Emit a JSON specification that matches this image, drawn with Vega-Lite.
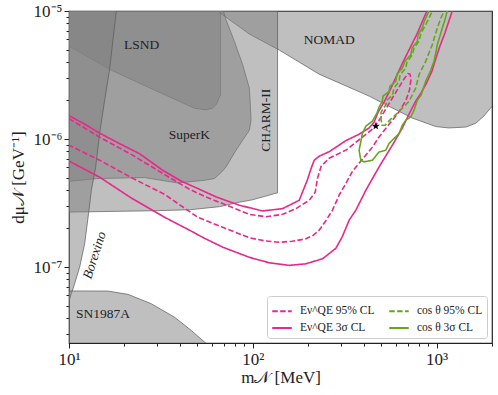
{
  "$schema": "https://vega.github.io/schema/vega-lite/v6.json",
  "width": 423,
  "height": 332,
  "autosize": {"type": "none"},
  "padding": {"left": 69, "top": 11, "right": 6, "bottom": 52},
  "background": "white",
  "config": {
    "view": {"stroke": "#222222", "strokeWidth": 1.2},
    "font": "Liberation Serif",
    "axis": {"labelFont": "Liberation Serif", "titleFont": "Liberation Serif", "labelFontSize": 17, "titleFontSize": 17, "titleFontWeight": "normal", "labelColor": "#222222", "titleColor": "#222222", "tickColor": "#222222", "domain": false, "grid": false, "labelOverlap": false, "labelFlush": false}
  },
  "datasets": {
    "regions": [
      {"region": "NOMAD", "i": 1, "m": 58.05, "d": 1.114e-5},
      {"region": "NOMAD", "i": 2, "m": 64.16, "d": 1e-5},
      {"region": "NOMAD", "i": 3, "m": 95.72, "d": 6.61e-6},
      {"region": "NOMAD", "i": 4, "m": 139.3, "d": 4.95e-6},
      {"region": "NOMAD", "i": 5, "m": 229.6, "d": 3.21e-6},
      {"region": "NOMAD", "i": 6, "m": 429.1, "d": 2.164e-6},
      {"region": "NOMAD", "i": 7, "m": 734.4, "d": 1.46e-6},
      {"region": "NOMAD", "i": 8, "m": 991.3, "d": 1.25e-6},
      {"region": "NOMAD", "i": 9, "m": 1166, "d": 1.22e-6},
      {"region": "NOMAD", "i": 10, "m": 1442, "d": 1.24e-6},
      {"region": "NOMAD", "i": 11, "m": 1635, "d": 1.33e-6},
      {"region": "NOMAD", "i": 12, "m": 1806, "d": 1.51e-6},
      {"region": "NOMAD", "i": 13, "m": 1979, "d": 1.77e-6},
      {"region": "NOMAD", "i": 14, "m": 2319, "d": 2.16e-6},
      {"region": "NOMAD", "i": 15, "m": 2500, "d": 2e-5},
      {"region": "NOMAD", "i": 16, "m": 58, "d": 2e-5},
      {"region": "LSND", "i": 1, "m": 8.9, "d": 5.87e-6},
      {"region": "LSND", "i": 2, "m": 16.63, "d": 3.5e-6},
      {"region": "LSND", "i": 3, "m": 27.43, "d": 2.51e-6},
      {"region": "LSND", "i": 4, "m": 48.13, "d": 1.74e-6},
      {"region": "LSND", "i": 5, "m": 55.71, "d": 1.69e-6},
      {"region": "LSND", "i": 6, "m": 60.28, "d": 1.74e-6},
      {"region": "LSND", "i": 7, "m": 63.38, "d": 1.87e-6},
      {"region": "LSND", "i": 8, "m": 66.61, "d": 2.2e-6},
      {"region": "LSND", "i": 9, "m": 66.61, "d": 2e-5},
      {"region": "LSND", "i": 10, "m": 8.9, "d": 2e-5},
      {"region": "SuperK", "i": 1, "m": 8.9, "d": 4.6e-7},
      {"region": "SuperK", "i": 2, "m": 14.37, "d": 4.91e-7},
      {"region": "SuperK", "i": 3, "m": 25.76, "d": 5.0e-7},
      {"region": "SuperK", "i": 4, "m": 33.07, "d": 4.71e-7},
      {"region": "SuperK", "i": 5, "m": 39.06, "d": 4.54e-7},
      {"region": "SuperK", "i": 6, "m": 54.55, "d": 4.76e-7},
      {"region": "SuperK", "i": 7, "m": 61.8, "d": 4.91e-7},
      {"region": "SuperK", "i": 8, "m": 67.45, "d": 5.5e-7},
      {"region": "SuperK", "i": 9, "m": 71.54, "d": 6.06e-7},
      {"region": "SuperK", "i": 10, "m": 81.04, "d": 8.18e-7},
      {"region": "SuperK", "i": 11, "m": 88.04, "d": 9.79e-7},
      {"region": "SuperK", "i": 12, "m": 95.72, "d": 1.17e-6},
      {"region": "SuperK", "i": 13, "m": 97.77, "d": 1.4e-6},
      {"region": "SuperK", "i": 14, "m": 96.92, "d": 1.84e-6},
      {"region": "SuperK", "i": 15, "m": 95.72, "d": 2.5e-6},
      {"region": "SuperK", "i": 16, "m": 88.04, "d": 3.8e-6},
      {"region": "SuperK", "i": 17, "m": 79.36, "d": 5.79e-6},
      {"region": "SuperK", "i": 18, "m": 71.54, "d": 8.5e-6},
      {"region": "SuperK", "i": 19, "m": 69.17, "d": 1e-5},
      {"region": "SuperK", "i": 20, "m": 68.0, "d": 2e-5},
      {"region": "SuperK", "i": 21, "m": 8.9, "d": 2e-5},
      {"region": "CHARM-II", "i": 1, "m": 8.9, "d": 2.68e-7},
      {"region": "CHARM-II", "i": 2, "m": 28.48, "d": 2.75e-7},
      {"region": "CHARM-II", "i": 3, "m": 45.22, "d": 2.8e-7},
      {"region": "CHARM-II", "i": 4, "m": 65.79, "d": 2.96e-7},
      {"region": "CHARM-II", "i": 5, "m": 84.48, "d": 3.21e-7},
      {"region": "CHARM-II", "i": 6, "m": 99.38, "d": 3.35e-7},
      {"region": "CHARM-II", "i": 7, "m": 136.3, "d": 3.8e-7},
      {"region": "CHARM-II", "i": 8, "m": 136.3, "d": 2e-5},
      {"region": "CHARM-II", "i": 9, "m": 8.9, "d": 2e-5},
      {"region": "Borexino", "i": 1, "m": 18.27, "d": 1.114e-5},
      {"region": "Borexino", "i": 2, "m": 18.08, "d": 1e-5},
      {"region": "Borexino", "i": 3, "m": 16.63, "d": 3.5e-6},
      {"region": "Borexino", "i": 4, "m": 15.63, "d": 2.01e-6},
      {"region": "Borexino", "i": 5, "m": 14.68, "d": 1.11e-6},
      {"region": "Borexino", "i": 6, "m": 13.96, "d": 6.02e-7},
      {"region": "Borexino", "i": 7, "m": 13.23, "d": 3.98e-7},
      {"region": "Borexino", "i": 8, "m": 12.84, "d": 2.78e-7},
      {"region": "Borexino", "i": 9, "m": 12.17, "d": 1.52e-7},
      {"region": "Borexino", "i": 10, "m": 11.43, "d": 1.0e-7},
      {"region": "Borexino", "i": 11, "m": 10.74, "d": 7.44e-8},
      {"region": "Borexino", "i": 12, "m": 10.09, "d": 5.66e-8},
      {"region": "Borexino", "i": 13, "m": 9.48, "d": 4.58e-8},
      {"region": "Borexino", "i": 14, "m": 8.9, "d": 4.58e-8},
      {"region": "Borexino", "i": 15, "m": 8.9, "d": 2e-5},
      {"region": "Borexino", "i": 16, "m": 18.27, "d": 2e-5},
      {"region": "SN1987A", "i": 1, "m": 8.9, "d": 6.51e-8},
      {"region": "SN1987A", "i": 2, "m": 16.28, "d": 6.49e-8},
      {"region": "SN1987A", "i": 3, "m": 20.91, "d": 6.12e-8},
      {"region": "SN1987A", "i": 4, "m": 28.01, "d": 5.17e-8},
      {"region": "SN1987A", "i": 5, "m": 37.48, "d": 4.06e-8},
      {"region": "SN1987A", "i": 6, "m": 46.2, "d": 3.2e-8},
      {"region": "SN1987A", "i": 7, "m": 55.71, "d": 2.53e-8},
      {"region": "SN1987A", "i": 8, "m": 61.8, "d": 2.15e-8},
      {"region": "SN1987A", "i": 9, "m": 8.9, "d": 2.15e-8}
    ],
    "contours": [
      {"series": "Eν^QE 3σ CL", "part": "a", "i": 1, "m": 10, "d": 1.522e-6},
      {"series": "Eν^QE 3σ CL", "part": "a", "i": 2, "m": 12.17, "d": 1.307e-6},
      {"series": "Eν^QE 3σ CL", "part": "a", "i": 3, "m": 14.68, "d": 1.111e-6},
      {"series": "Eν^QE 3σ CL", "part": "a", "i": 4, "m": 18.85, "d": 9.2e-7},
      {"series": "Eν^QE 3σ CL", "part": "a", "i": 5, "m": 24.2, "d": 7.68e-7},
      {"series": "Eν^QE 3σ CL", "part": "a", "i": 6, "m": 32.27, "d": 5.71e-7},
      {"series": "Eν^QE 3σ CL", "part": "a", "i": 7, "m": 41.43, "d": 4.64e-7},
      {"series": "Eν^QE 3σ CL", "part": "a", "i": 8, "m": 51.23, "d": 4.05e-7},
      {"series": "Eν^QE 3σ CL", "part": "a", "i": 9, "m": 63.12, "d": 3.53e-7},
      {"series": "Eν^QE 3σ CL", "part": "a", "i": 10, "m": 84.48, "d": 3.04e-7},
      {"series": "Eν^QE 3σ CL", "part": "a", "i": 11, "m": 113, "d": 2.74e-7},
      {"series": "Eν^QE 3σ CL", "part": "a", "i": 12, "m": 145.2, "d": 2.86e-7},
      {"series": "Eν^QE 3σ CL", "part": "a", "i": 13, "m": 178.8, "d": 3.32e-7},
      {"series": "Eν^QE 3σ CL", "part": "a", "i": 14, "m": 188, "d": 3.98e-7},
      {"series": "Eν^QE 3σ CL", "part": "a", "i": 15, "m": 197.7, "d": 4.76e-7},
      {"series": "Eν^QE 3σ CL", "part": "a", "i": 16, "m": 207.8, "d": 5.92e-7},
      {"series": "Eν^QE 3σ CL", "part": "a", "i": 17, "m": 215.8, "d": 6.83e-7},
      {"series": "Eν^QE 3σ CL", "part": "a", "i": 18, "m": 229.6, "d": 7.34e-7},
      {"series": "Eν^QE 3σ CL", "part": "a", "i": 19, "m": 260.2, "d": 7.96e-7},
      {"series": "Eν^QE 3σ CL", "part": "a", "i": 20, "m": 320.6, "d": 9.71e-7},
      {"series": "Eν^QE 3σ CL", "part": "a", "i": 21, "m": 378.6, "d": 1.091e-6},
      {"series": "Eν^QE 3σ CL", "part": "a", "i": 22, "m": 429.1, "d": 1.22e-6},
      {"series": "Eν^QE 3σ CL", "part": "a", "i": 23, "m": 456.7, "d": 1.354e-6},
      {"series": "Eν^QE 3σ CL", "part": "a", "i": 24, "m": 480.1, "d": 1.62e-6},
      {"series": "Eν^QE 3σ CL", "part": "a", "i": 25, "m": 517.4, "d": 1.942e-6},
      {"series": "Eν^QE 3σ CL", "part": "a", "i": 26, "m": 557.7, "d": 2.41e-6},
      {"series": "Eν^QE 3σ CL", "part": "a", "i": 27, "m": 601.3, "d": 3.047e-6},
      {"series": "Eν^QE 3σ CL", "part": "a", "i": 28, "m": 656.2, "d": 3.99e-6},
      {"series": "Eν^QE 3σ CL", "part": "a", "i": 29, "m": 716.1, "d": 5.14e-6},
      {"series": "Eν^QE 3σ CL", "part": "a", "i": 30, "m": 781.6, "d": 6.61e-6},
      {"series": "Eν^QE 3σ CL", "part": "a", "i": 31, "m": 842.7, "d": 8.5e-6},
      {"series": "Eν^QE 3σ CL", "part": "a", "i": 32, "m": 886, "d": 1e-5},
      {"series": "Eν^QE 3σ CL", "part": "a", "i": 33, "m": 908.1, "d": 1.114e-5},
      {"series": "Eν^QE 3σ CL", "part": "b", "i": 1, "m": 10, "d": 6.73e-7},
      {"series": "Eν^QE 3σ CL", "part": "b", "i": 2, "m": 14.68, "d": 5.03e-7},
      {"series": "Eν^QE 3σ CL", "part": "b", "i": 3, "m": 21.9, "d": 3.45e-7},
      {"series": "Eν^QE 3σ CL", "part": "b", "i": 4, "m": 33.07, "d": 2.45e-7},
      {"series": "Eν^QE 3σ CL", "part": "b", "i": 5, "m": 45.22, "d": 1.94e-7},
      {"series": "Eν^QE 3σ CL", "part": "b", "i": 6, "m": 54.55, "d": 1.677e-7},
      {"series": "Eν^QE 3σ CL", "part": "b", "i": 7, "m": 68.55, "d": 1.43e-7},
      {"series": "Eν^QE 3σ CL", "part": "b", "i": 8, "m": 95.72, "d": 1.191e-7},
      {"series": "Eν^QE 3σ CL", "part": "b", "i": 9, "m": 122.9, "d": 1.079e-7},
      {"series": "Eν^QE 3σ CL", "part": "b", "i": 10, "m": 157.8, "d": 1.03e-7},
      {"series": "Eν^QE 3σ CL", "part": "b", "i": 11, "m": 194.5, "d": 1.06e-7},
      {"series": "Eν^QE 3σ CL", "part": "b", "i": 12, "m": 239.3, "d": 1.16e-7},
      {"series": "Eν^QE 3σ CL", "part": "b", "i": 13, "m": 282.9, "d": 1.4e-7},
      {"series": "Eν^QE 3σ CL", "part": "b", "i": 14, "m": 307.3, "d": 1.738e-7},
      {"series": "Eν^QE 3σ CL", "part": "b", "i": 15, "m": 334.1, "d": 2.32e-7},
      {"series": "Eν^QE 3σ CL", "part": "b", "i": 16, "m": 363.3, "d": 2.78e-7},
      {"series": "Eν^QE 3σ CL", "part": "b", "i": 17, "m": 411.8, "d": 3.98e-7},
      {"series": "Eν^QE 3σ CL", "part": "b", "i": 18, "m": 486.2, "d": 6.06e-7},
      {"series": "Eν^QE 3σ CL", "part": "b", "i": 19, "m": 574.1, "d": 8.95e-7},
      {"series": "Eν^QE 3σ CL", "part": "b", "i": 20, "m": 650.6, "d": 1.22e-6},
      {"series": "Eν^QE 3σ CL", "part": "b", "i": 21, "m": 707.4, "d": 1.564e-6},
      {"series": "Eν^QE 3σ CL", "part": "b", "i": 22, "m": 769.1, "d": 1.977e-6},
      {"series": "Eν^QE 3σ CL", "part": "b", "i": 23, "m": 821.9, "d": 2.284e-6},
      {"series": "Eν^QE 3σ CL", "part": "b", "i": 24, "m": 875, "d": 2.685e-6},
      {"series": "Eν^QE 3σ CL", "part": "b", "i": 25, "m": 943, "d": 3.395e-6},
      {"series": "Eν^QE 3σ CL", "part": "b", "i": 26, "m": 991.3, "d": 4.29e-6},
      {"series": "Eν^QE 3σ CL", "part": "b", "i": 27, "m": 1042, "d": 5.32e-6},
      {"series": "Eν^QE 3σ CL", "part": "b", "i": 28, "m": 1109, "d": 6.73e-6},
      {"series": "Eν^QE 3σ CL", "part": "b", "i": 29, "m": 1166, "d": 8.35e-6},
      {"series": "Eν^QE 3σ CL", "part": "b", "i": 30, "m": 1215, "d": 1e-5},
      {"series": "Eν^QE 3σ CL", "part": "b", "i": 31, "m": 1241, "d": 1.114e-5},
      {"series": "Eν^QE 95% CL", "part": "c", "i": 1, "m": 10, "d": 1.443e-6},
      {"series": "Eν^QE 95% CL", "part": "c", "i": 2, "m": 14.68, "d": 1.034e-6},
      {"series": "Eν^QE 95% CL", "part": "c", "i": 3, "m": 22.17, "d": 7.48e-7},
      {"series": "Eν^QE 95% CL", "part": "c", "i": 4, "m": 33.5, "d": 5.22e-7},
      {"series": "Eν^QE 95% CL", "part": "c", "i": 5, "m": 45.22, "d": 4.05e-7},
      {"series": "Eν^QE 95% CL", "part": "c", "i": 6, "m": 54.55, "d": 3.57e-7},
      {"series": "Eν^QE 95% CL", "part": "c", "i": 7, "m": 68.55, "d": 3.13e-7},
      {"series": "Eν^QE 95% CL", "part": "c", "i": 8, "m": 95.72, "d": 2.58e-7},
      {"series": "Eν^QE 95% CL", "part": "c", "i": 9, "m": 118, "d": 2.47e-7},
      {"series": "Eν^QE 95% CL", "part": "c", "i": 10, "m": 145.2, "d": 2.58e-7},
      {"series": "Eν^QE 95% CL", "part": "c", "i": 11, "m": 171.6, "d": 2.86e-7},
      {"series": "Eν^QE 95% CL", "part": "c", "i": 12, "m": 202.6, "d": 3.32e-7},
      {"series": "Eν^QE 95% CL", "part": "c", "i": 13, "m": 218.4, "d": 3.84e-7},
      {"series": "Eν^QE 95% CL", "part": "c", "i": 14, "m": 224.8, "d": 4.94e-7},
      {"series": "Eν^QE 95% CL", "part": "c", "i": 15, "m": 235.4, "d": 6.13e-7},
      {"series": "Eν^QE 95% CL", "part": "c", "i": 16, "m": 260.2, "d": 7.08e-7},
      {"series": "Eν^QE 95% CL", "part": "c", "i": 17, "m": 320.6, "d": 8.18e-7},
      {"series": "Eν^QE 95% CL", "part": "c", "i": 18, "m": 394.6, "d": 1.034e-6},
      {"series": "Eν^QE 95% CL", "part": "c", "i": 19, "m": 447.2, "d": 1.194e-6},
      {"series": "Eν^QE 95% CL", "part": "c", "i": 20, "m": 486.2, "d": 1.4e-6},
      {"series": "Eν^QE 95% CL", "part": "c", "i": 21, "m": 528.6, "d": 1.712e-6},
      {"series": "Eν^QE 95% CL", "part": "c", "i": 22, "m": 574.1, "d": 2.09e-6},
      {"series": "Eν^QE 95% CL", "part": "c", "i": 23, "m": 624.3, "d": 2.544e-6},
      {"series": "Eν^QE 95% CL", "part": "c", "i": 24, "m": 664.6, "d": 2.94e-6},
      {"series": "Eν^QE 95% CL", "part": "c", "i": 25, "m": 698.6, "d": 3.244e-6},
      {"series": "Eν^QE 95% CL", "part": "c", "i": 26, "m": 716.1, "d": 3.21e-6},
      {"series": "Eν^QE 95% CL", "part": "c", "i": 27, "m": 725.3, "d": 2.94e-6},
      {"series": "Eν^QE 95% CL", "part": "c", "i": 28, "m": 711.7, "d": 2.41e-6},
      {"series": "Eν^QE 95% CL", "part": "c", "i": 29, "m": 681.3, "d": 2.01e-6},
      {"series": "Eν^QE 95% CL", "part": "c", "i": 30, "m": 624.3, "d": 1.631e-6},
      {"series": "Eν^QE 95% CL", "part": "c", "i": 31, "m": 574.1, "d": 1.4e-6},
      {"series": "Eν^QE 95% CL", "part": "c", "i": 32, "m": 528.6, "d": 1.21e-6},
      {"series": "Eν^QE 95% CL", "part": "c", "i": 33, "m": 486.2, "d": 1.039e-6},
      {"series": "Eν^QE 95% CL", "part": "c", "i": 34, "m": 447.2, "d": 8.64e-7},
      {"series": "Eν^QE 95% CL", "part": "c", "i": 35, "m": 394.6, "d": 6.96e-7},
      {"series": "Eν^QE 95% CL", "part": "c", "i": 36, "m": 348.2, "d": 5.6e-7},
      {"series": "Eν^QE 95% CL", "part": "c", "i": 37, "m": 320.6, "d": 4.49e-7},
      {"series": "Eν^QE 95% CL", "part": "c", "i": 38, "m": 294.8, "d": 3.64e-7},
      {"series": "Eν^QE 95% CL", "part": "c", "i": 39, "m": 271.2, "d": 2.78e-7},
      {"series": "Eν^QE 95% CL", "part": "c", "i": 40, "m": 250.6, "d": 2.32e-7},
      {"series": "Eν^QE 95% CL", "part": "c", "i": 41, "m": 229.6, "d": 1.94e-7},
      {"series": "Eν^QE 95% CL", "part": "c", "i": 42, "m": 211.2, "d": 1.754e-7},
      {"series": "Eν^QE 95% CL", "part": "c", "i": 43, "m": 194.5, "d": 1.662e-7},
      {"series": "Eν^QE 95% CL", "part": "c", "i": 44, "m": 163.8, "d": 1.589e-7},
      {"series": "Eν^QE 95% CL", "part": "c", "i": 45, "m": 139.3, "d": 1.561e-7},
      {"series": "Eν^QE 95% CL", "part": "c", "i": 46, "m": 115.5, "d": 1.603e-7},
      {"series": "Eν^QE 95% CL", "part": "c", "i": 47, "m": 95.72, "d": 1.692e-7},
      {"series": "Eν^QE 95% CL", "part": "c", "i": 48, "m": 68.55, "d": 2.044e-7},
      {"series": "Eν^QE 95% CL", "part": "c", "i": 49, "m": 50.15, "d": 2.447e-7},
      {"series": "Eν^QE 95% CL", "part": "c", "i": 50, "m": 33.07, "d": 3.7e-7},
      {"series": "Eν^QE 95% CL", "part": "c", "i": 51, "m": 22.17, "d": 4.94e-7},
      {"series": "Eν^QE 95% CL", "part": "c", "i": 52, "m": 14.68, "d": 6.83e-7},
      {"series": "Eν^QE 95% CL", "part": "c", "i": 53, "m": 10, "d": 8.95e-7},
      {"series": "cos θ 3σ CL", "part": "d", "i": 1, "m": 908.1, "d": 1.114e-5},
      {"series": "cos θ 3σ CL", "part": "d", "i": 2, "m": 908.1, "d": 1e-5},
      {"series": "cos θ 3σ CL", "part": "d", "i": 3, "m": 853.1, "d": 8.2e-6},
      {"series": "cos θ 3σ CL", "part": "d", "i": 4, "m": 835.1, "d": 7.36e-6},
      {"series": "cos θ 3σ CL", "part": "d", "i": 5, "m": 791.5, "d": 6.49e-6},
      {"series": "cos θ 3σ CL", "part": "d", "i": 6, "m": 784.6, "d": 5.79e-6},
      {"series": "cos θ 3σ CL", "part": "d", "i": 7, "m": 734.4, "d": 5.14e-6},
      {"series": "cos θ 3σ CL", "part": "d", "i": 8, "m": 722.7, "d": 4.55e-6},
      {"series": "cos θ 3σ CL", "part": "d", "i": 9, "m": 672.9, "d": 4.06e-6},
      {"series": "cos θ 3σ CL", "part": "d", "i": 10, "m": 650.6, "d": 3.58e-6},
      {"series": "cos θ 3σ CL", "part": "d", "i": 11, "m": 608.8, "d": 3.21e-6},
      {"series": "cos θ 3σ CL", "part": "d", "i": 12, "m": 599, "d": 2.82e-6},
      {"series": "cos θ 3σ CL", "part": "d", "i": 13, "m": 557.7, "d": 2.59e-6},
      {"series": "cos θ 3σ CL", "part": "d", "i": 14, "m": 551, "d": 2.35e-6},
      {"series": "cos θ 3σ CL", "part": "d", "i": 15, "m": 510.9, "d": 2.164e-6},
      {"series": "cos θ 3σ CL", "part": "d", "i": 16, "m": 506.6, "d": 1.97e-6},
      {"series": "cos θ 3σ CL", "part": "d", "i": 17, "m": 486.2, "d": 1.78e-6},
      {"series": "cos θ 3σ CL", "part": "d", "i": 18, "m": 476, "d": 1.62e-6},
      {"series": "cos θ 3σ CL", "part": "d", "i": 19, "m": 447.2, "d": 1.379e-6},
      {"series": "cos θ 3σ CL", "part": "d", "i": 20, "m": 411.8, "d": 1.26e-6},
      {"series": "cos θ 3σ CL", "part": "d", "i": 21, "m": 394.6, "d": 1.105e-6},
      {"series": "cos θ 3σ CL", "part": "d", "i": 22, "m": 378.6, "d": 8.18e-7},
      {"series": "cos θ 3σ CL", "part": "d", "i": 23, "m": 386.7, "d": 6.83e-7},
      {"series": "cos θ 3σ CL", "part": "d", "i": 24, "m": 403, "d": 6.63e-7},
      {"series": "cos θ 3σ CL", "part": "d", "i": 25, "m": 447.2, "d": 6.83e-7},
      {"series": "cos θ 3σ CL", "part": "d", "i": 26, "m": 486.2, "d": 7.93e-7},
      {"series": "cos θ 3σ CL", "part": "d", "i": 27, "m": 528.6, "d": 8.18e-7},
      {"series": "cos θ 3σ CL", "part": "d", "i": 28, "m": 551, "d": 9.23e-7},
      {"series": "cos θ 3σ CL", "part": "d", "i": 29, "m": 624.3, "d": 1.105e-6},
      {"series": "cos θ 3σ CL", "part": "d", "i": 30, "m": 650.6, "d": 1.28e-6},
      {"series": "cos θ 3σ CL", "part": "d", "i": 31, "m": 678.9, "d": 1.4e-6},
      {"series": "cos θ 3σ CL", "part": "d", "i": 32, "m": 722.7, "d": 1.49e-6},
      {"series": "cos θ 3σ CL", "part": "d", "i": 33, "m": 753.3, "d": 1.68e-6},
      {"series": "cos θ 3σ CL", "part": "d", "i": 34, "m": 784.6, "d": 2.01e-6},
      {"series": "cos θ 3σ CL", "part": "d", "i": 35, "m": 821.9, "d": 2.2e-6},
      {"series": "cos θ 3σ CL", "part": "d", "i": 36, "m": 871.4, "d": 2.82e-6},
      {"series": "cos θ 3σ CL", "part": "d", "i": 37, "m": 919.5, "d": 3.33e-6},
      {"series": "cos θ 3σ CL", "part": "d", "i": 38, "m": 966.7, "d": 4.04e-6},
      {"series": "cos θ 3σ CL", "part": "d", "i": 39, "m": 991.3, "d": 4.78e-6},
      {"series": "cos θ 3σ CL", "part": "d", "i": 40, "m": 1008, "d": 5.45e-6},
      {"series": "cos θ 3σ CL", "part": "d", "i": 41, "m": 1042, "d": 6.38e-6},
      {"series": "cos θ 3σ CL", "part": "d", "i": 42, "m": 1073, "d": 7.36e-6},
      {"series": "cos θ 3σ CL", "part": "d", "i": 43, "m": 1109, "d": 8.5e-6},
      {"series": "cos θ 3σ CL", "part": "d", "i": 44, "m": 1141, "d": 1e-5},
      {"series": "cos θ 3σ CL", "part": "d", "i": 45, "m": 1152, "d": 1.114e-5},
      {"series": "cos θ 95% CL", "part": "e", "i": 1, "m": 955, "d": 1.114e-5},
      {"series": "cos θ 95% CL", "part": "e", "i": 2, "m": 946.4, "d": 9.95e-6},
      {"series": "cos θ 95% CL", "part": "e", "i": 3, "m": 897.3, "d": 8.5e-6},
      {"series": "cos θ 95% CL", "part": "e", "i": 4, "m": 871.4, "d": 7.81e-6},
      {"series": "cos θ 95% CL", "part": "e", "i": 5, "m": 821.9, "d": 6.73e-6},
      {"series": "cos θ 95% CL", "part": "e", "i": 6, "m": 801.4, "d": 5.79e-6},
      {"series": "cos θ 95% CL", "part": "e", "i": 7, "m": 753.3, "d": 5.14e-6},
      {"series": "cos θ 95% CL", "part": "e", "i": 8, "m": 737.2, "d": 4.55e-6},
      {"series": "cos θ 95% CL", "part": "e", "i": 9, "m": 690, "d": 3.99e-6},
      {"series": "cos θ 95% CL", "part": "e", "i": 10, "m": 678.9, "d": 3.58e-6},
      {"series": "cos θ 95% CL", "part": "e", "i": 11, "m": 632, "d": 3.157e-6},
      {"series": "cos θ 95% CL", "part": "e", "i": 12, "m": 624.3, "d": 2.82e-6},
      {"series": "cos θ 95% CL", "part": "e", "i": 13, "m": 586.5, "d": 2.5e-6},
      {"series": "cos θ 95% CL", "part": "e", "i": 14, "m": 574.1, "d": 2.21e-6},
      {"series": "cos θ 95% CL", "part": "e", "i": 15, "m": 537.3, "d": 2.01e-6},
      {"series": "cos θ 95% CL", "part": "e", "i": 16, "m": 528.6, "d": 1.85e-6},
      {"series": "cos θ 95% CL", "part": "e", "i": 17, "m": 498.5, "d": 1.62e-6},
      {"series": "cos θ 95% CL", "part": "e", "i": 18, "m": 496.6, "d": 1.46e-6},
      {"series": "cos θ 95% CL", "part": "e", "i": 19, "m": 504.7, "d": 1.28e-6},
      {"series": "cos θ 95% CL", "part": "e", "i": 20, "m": 524, "d": 1.28e-6},
      {"series": "cos θ 95% CL", "part": "e", "i": 21, "m": 562.6, "d": 1.43e-6},
      {"series": "cos θ 95% CL", "part": "e", "i": 22, "m": 624.3, "d": 1.64e-6},
      {"series": "cos θ 95% CL", "part": "e", "i": 23, "m": 707.4, "d": 1.97e-6},
      {"series": "cos θ 95% CL", "part": "e", "i": 24, "m": 769.1, "d": 2.5e-6},
      {"series": "cos θ 95% CL", "part": "e", "i": 25, "m": 801.4, "d": 3.18e-6},
      {"series": "cos θ 95% CL", "part": "e", "i": 26, "m": 871.4, "d": 4.04e-6},
      {"series": "cos θ 95% CL", "part": "e", "i": 27, "m": 946.4, "d": 5.45e-6},
      {"series": "cos θ 95% CL", "part": "e", "i": 28, "m": 1008, "d": 7.36e-6},
      {"series": "cos θ 95% CL", "part": "e", "i": 29, "m": 1055, "d": 8.81e-6},
      {"series": "cos θ 95% CL", "part": "e", "i": 30, "m": 1096, "d": 9.95e-6},
      {"series": "cos θ 95% CL", "part": "e", "i": 31, "m": 1109, "d": 1.114e-5}
    ],
    "labels": [
      {"label": "LSND", "m": 24.81, "d": 5.42e-6},
      {"label": "SuperK", "m": 45.22, "d": 1.072e-6},
      {"label": "NOMAD", "m": 260.2, "d": 5.93e-6},
      {"label": "SN1987A", "m": 15.3, "d": 4.27e-8}
    ],
    "labelsCharm": [{"label": "CHARM-II", "m": 118, "d": 1.4e-6}],
    "labelsBorex": [{"label": "Borexino", "m": 13.79, "d": 1.235e-7}],
    "star": [{"m": 466.6, "d": 1.26e-6}]
  },
  "encoding": {
    "x": {
      "field": "m", "type": "quantitative",
      "scale": {"type": "log", "domain": [10, 2000], "nice": false},
      "axis": {
        "title": "m𝒩 [MeV]",
        "values": [10, 20, 30, 40, 50, 60, 70, 80, 90, 100, 200, 300, 400, 500, 600, 700, 800, 900, 1000, 2000],
        "labelExpr": "datum.value == 10 ? '10¹' : datum.value == 100 ? '10²' : datum.value == 1000 ? '10³' : ''",
        "tickSize": {"condition": {"test": "datum.value == 10 || datum.value == 100 || datum.value == 1000", "value": 5}, "value": 3},
        "labelPadding": 3,
        "titlePadding": 2
      }
    },
    "y": {
      "field": "d", "type": "quantitative",
      "scale": {"type": "log", "domain": [2.55e-8, 1e-5], "nice": false},
      "axis": {
        "title": "dμ𝒩 [GeV⁻¹]",
        "values": [3e-8, 4e-8, 5e-8, 6e-8, 7e-8, 8e-8, 9e-8, 1e-7, 2e-7, 3e-7, 4e-7, 5e-7, 6e-7, 7e-7, 8e-7, 9e-7, 1e-6, 2e-6, 3e-6, 4e-6, 5e-6, 6e-6, 7e-6, 8e-6, 9e-6, 1e-5],
        "labelExpr": "datum.value == 0.00001 ? '10⁻⁵' : datum.value == 0.000001 ? '10⁻⁶' : datum.value == 0.0000001 ? '10⁻⁷' : ''",
        "tickSize": {"condition": {"test": "datum.value == 0.00001 || datum.value == 0.000001 || datum.value == 0.0000001", "value": 5}, "value": 3},
        "labelPadding": 2,
        "titlePadding": 6
      }
    }
  },
  "layer": [
    {
      "data": {"name": "regions"},
      "mark": {"type": "line", "fill": "#808080", "fillOpacity": 0.5, "stroke": "#5a5a5a", "strokeOpacity": 0.7, "strokeWidth": 1, "clip": true},
      "encoding": {
        "detail": {"field": "region", "type": "nominal"},
        "order": {"field": "i", "type": "quantitative"}
      }
    },
    {
      "data": {"name": "labels"},
      "mark": {"type": "text", "font": "Liberation Serif", "fontSize": 13.5, "color": "#222222"},
      "encoding": {"text": {"field": "label", "type": "nominal"}}
    },
    {
      "data": {"name": "labelsCharm"},
      "mark": {"type": "text", "font": "Liberation Serif", "fontSize": 13.5, "color": "#222222", "angle": 270},
      "encoding": {"text": {"field": "label", "type": "nominal"}}
    },
    {
      "data": {"name": "labelsBorex"},
      "mark": {"type": "text", "font": "Liberation Serif", "fontSize": 13.5, "fontStyle": "italic", "color": "#222222", "angle": 288},
      "encoding": {"text": {"field": "label", "type": "nominal"}}
    },
    {
      "data": {"name": "contours"},
      "mark": {"type": "line", "strokeWidth": 1.6, "clip": true},
      "encoding": {
        "color": {
          "field": "series", "type": "nominal",
          "scale": {"domain": ["Eν^QE 95% CL", "Eν^QE 3σ CL", "cos θ 95% CL", "cos θ 3σ CL"], "range": ["#e7298a", "#e7298a", "#66a61e", "#66a61e"]},
          "legend": {"title": null, "orient": "bottom-right", "columns": 2, "offset": 5, "symbolType": "stroke", "symbolSize": 380, "symbolStrokeWidth": 1.8, "labelFont": "Liberation Serif", "labelFontSize": 11.5, "labelColor": "#222222", "padding": 4, "fillColor": "rgba(255,255,255,0.85)", "strokeColor": "#cccccc", "cornerRadius": 3, "columnPadding": 10, "rowPadding": -1, "labelOffset": 7}
        },
        "strokeDash": {
          "field": "series", "type": "nominal",
          "scale": {"domain": ["Eν^QE 95% CL", "Eν^QE 3σ CL", "cos θ 95% CL", "cos θ 3σ CL"], "range": [[5.5, 2.4], [1, 0], [5.5, 2.4], [1, 0]]},
          "legend": {"title": null, "orient": "bottom-right", "columns": 2, "offset": 5, "symbolType": "stroke", "symbolSize": 380, "symbolStrokeWidth": 1.8, "labelFont": "Liberation Serif", "labelFontSize": 11.5, "labelColor": "#222222", "padding": 4, "fillColor": "rgba(255,255,255,0.85)", "strokeColor": "#cccccc", "cornerRadius": 3, "columnPadding": 10, "rowPadding": -1, "labelOffset": 7}
        },
        "detail": {"field": "part", "type": "nominal"},
        "order": {"field": "i", "type": "quantitative"}
      }
    },
    {
      "data": {"name": "star"},
      "mark": {"type": "point", "shape": "M0,-1L0.2245,-0.309L0.951,-0.309L0.363,0.118L0.588,0.809L0,0.382L-0.588,0.809L-0.363,0.118L-0.951,-0.309L-0.2245,-0.309Z", "filled": true, "color": "black", "size": 70, "opacity": 1}
    }
  ]
}
